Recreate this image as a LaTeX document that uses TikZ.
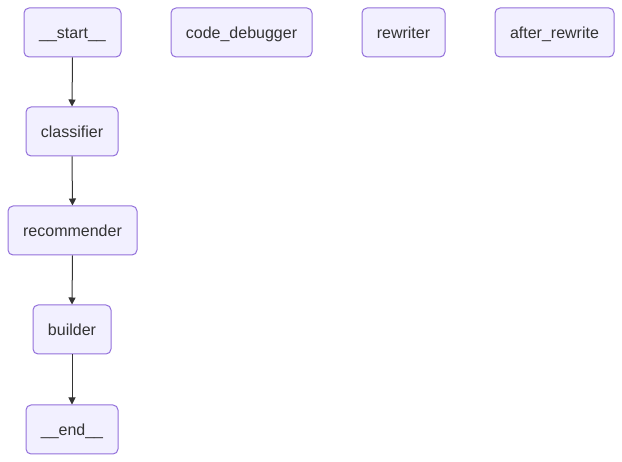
\documentclass[tikz,border=0pt]{standalone}
\usepackage{fontspec}
\setmainfont{Liberation Sans}
\usetikzlibrary{arrows.meta}
\definecolor{nodefill}{HTML}{F2F0FF}
\definecolor{nodeborder}{HTML}{9370DB}
\definecolor{txt}{HTML}{333333}
\tikzset{
  gnode/.style={draw=nodeborder, fill=nodefill, line width=1pt, rounded corners=5pt,
    minimum height=49pt, inner xsep=0pt, inner ysep=0pt, text height=14pt, text depth=1pt,
    text=txt, font=\fontsize{16pt}{19pt}\selectfont, anchor=center},
  edge/.style={draw=txt, line width=1pt, -{Triangle[length=7pt,width=7pt]}}
}
\begin{document}
\begin{tikzpicture}[x=1pt,y=-1pt]
\useasboundingbox (0,0) rectangle (622,462);
\node[gnode, minimum width=97pt] (start) at (72.5,32.5) {\_\_start\_\_};
\node[gnode, minimum width=141pt] (dbg) at (241.5,32.5) {code\_debugger};
\node[gnode, minimum width=83pt] (rew) at (403.5,32.5) {rewriter};
\node[gnode, minimum width=119pt] (after) at (554.5,32.5) {after\_rewrite};
\node[gnode, minimum width=92pt] (cls) at (72,131.5) {classifier};
\node[gnode, minimum width=129pt] (rec) at (72.5,230.5) {recommender};
\node[gnode, minimum width=78pt] (bld) at (72,329.5) {builder};
\node[gnode, minimum width=92pt] (end) at (72,429.5) {\_\_end\_\_};
\draw[edge] (start.south) -- (cls.north);
\draw[edge] (cls.south) -- (rec.north);
\draw[edge] (rec.south) -- (bld.north);
\draw[edge] (bld.south) -- (end.north);
\end{tikzpicture}
\end{document}
